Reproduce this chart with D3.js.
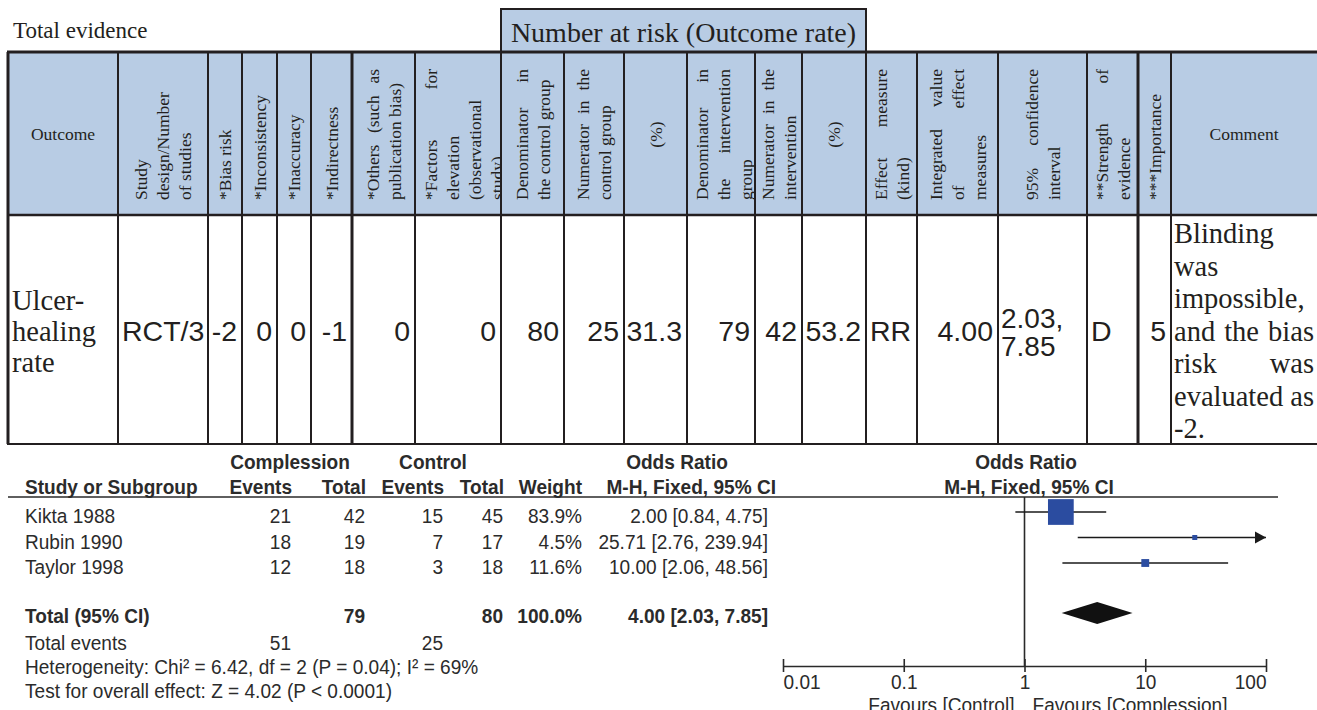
<!DOCTYPE html>
<html>
<head>
<meta charset="utf-8">
<script src="https://cdn.jsdelivr.net/npm/d3@7"></script>
<style>
  html, body { margin: 0; padding: 0; background: #fff; }
  svg { display: block; }
</style>
</head>
<body>
<svg id="chart" width="1317" height="710"></svg>
<script>
// ---------------- Evidence profile (table) ----------------
const tableTitle = "Total evidence";
const groupTitle = "Number at risk (Outcome rate)";

// Header labels, one entry per column, as printed line by line
const headerLabels = [
  ["Outcome"],
  ["Study", "design/Number", "of studies"],
  ["*Bias risk"],
  ["*Inconsistency"],
  ["*Inaccuracy"],
  ["*Indirectness"],
  ["*Others (such as", "publication bias)"],
  ["*Factors for", "elevation", "(observational", "study)"],
  ["Denominator in", "the control group"],
  ["Numerator in the", "control group"],
  ["(%)"],
  ["Denominator in", "the intervention", "group"],
  ["Numerator in the", "intervention"],
  ["(%)"],
  ["Effect measure", "(kind)"],
  ["Integrated value", "of effect", "measures"],
  ["95% confidence", "interval"],
  ["**Strength of", "evidence"],
  ["***Importance"],
  ["Comment"]
];

// Body row
const outcomeLines = ["Ulcer-", "healing", "rate"];
const studyDesign = "RCT/3";
const gradeScores = [-2, 0, 0, -1, 0, 0];          // bias, inconsistency, inaccuracy, indirectness, others, factors
const riskCounts = [80, 25, 31.3, 79, 42, 53.2];    // control den/num/%, intervention den/num/%
const riskIsRate = [false, false, true, false, false, true];
const effectKind = "RR";
const pooledEffect = 4.00;
const pooledCI = [2.03, 7.85];
const evidenceStrength = "D";
const importanceScore = 5;
const commentLines = ["Blinding", "was", "impossible,", "and the bias", "risk was", "evaluated as", "-2."];
const commentJustified = [false, false, false, true, true, true, false];

// ---------------- Forest plot ----------------
const studyNames = ["Kikta 1988", "Rubin 1990", "Taylor 1998"];
const expEvents = [21, 18, 12];
const expTotal = [42, 19, 18];
const ctlEvents = [15, 7, 3];
const ctlTotal = [45, 17, 18];
const studyWeight = [83.9, 4.5, 11.6];
const oddsRatio = [2.00, 25.71, 10.00];
const ciLower = [0.84, 2.76, 2.06];
const ciUpper = [4.75, 239.94, 48.56];
const axisTicks = [0.01, 0.1, 1, 10, 100];
const groupLabels = ["Complession", "Control"];
const favourLabels = ["Favours [Control]", "Favours [Complession]"];
const footNotes = [
  "Heterogeneity: Chi\u00b2 = 6.42, df = 2 (P = 0.04); I\u00b2 = 69%",
  "Test for overall effect: Z = 4.02 (P < 0.0001)"
];

// ---------------- Layout & style ----------------
const svg = d3.select("#chart");
const ink = "#231f20";
const headFill = "#b8cce4";
const serif = "'Liberation Serif','Times New Roman',serif";
const sans = "'Liberation Sans',Arial,Helvetica,sans-serif";

const colEdges = [8, 118, 208, 242, 277, 311, 352, 415, 501, 564, 624, 687, 755, 802, 866, 917, 998, 1087, 1138, 1171, 1317];
const thickEdges = new Set([8, 352, 1138]);
const tableTop = 52, headBottom = 215, tableBottom = 444;
const bodyMid = 331;

const defs = svg.append("defs");

// Title
svg.append("text")
  .attr("x", 13).attr("y", 38)
  .attr("font-family", serif).attr("font-size", 23).attr("fill", ink)
  .text(tableTitle);

// Header background
svg.append("rect")
  .attr("x", colEdges[0]).attr("y", tableTop)
  .attr("width", colEdges[colEdges.length - 1] - colEdges[0])
  .attr("height", headBottom - tableTop)
  .attr("fill", headFill);

// Group header box spanning the risk columns
svg.append("rect")
  .attr("x", colEdges[8]).attr("y", 9)
  .attr("width", colEdges[14] - colEdges[8]).attr("height", tableTop - 9)
  .attr("fill", headFill).attr("stroke", ink).attr("stroke-width", 2);
svg.append("text")
  .attr("x", (colEdges[8] + colEdges[14]) / 2).attr("y", 32)
  .attr("text-anchor", "middle").attr("dominant-baseline", "central")
  .attr("font-family", serif).attr("font-size", 28).attr("fill", ink)
  .text(groupTitle);

// Place words of one line; justified lines are spread across the full span
function placeLine(parent, text, x0, span, justify, anchor) {
  const words = text.split(" ");
  if (!justify || words.length < 2) {
    parent.append("text")
      .attr("x", anchor === "middle" ? x0 + span / 2 : x0)
      .attr("text-anchor", anchor || "start")
      .attr("dominant-baseline", "central")
      .text(text);
    return;
  }
  const nodes = words.map(w => parent.append("text")
    .attr("x", x0).attr("dominant-baseline", "central").text(w));
  const widths = nodes.map(n => n.node().getComputedTextLength());
  const gap = Math.max(4, (span - d3.sum(widths)) / (words.length - 1));
  let x = x0;
  nodes.forEach((n, i) => { n.attr("x", x); x += widths[i] + gap; });
}

// Header cells
const headerLS = 22;
const headerShift = { 7: 6, 11: 3 };
headerLabels.forEach((lines, i) => {
  const x0 = colEdges[i], x1 = colEdges[i + 1];
  const clipId = "hclip" + i;
  defs.append("clipPath").attr("id", clipId).append("rect")
    .attr("x", x0).attr("y", tableTop).attr("width", x1 - x0).attr("height", headBottom - tableTop);
  const cell = svg.append("g").attr("clip-path", `url(#${clipId})`)
    .attr("font-family", serif).attr("font-size", 17.5).attr("fill", ink);
  const cx = (x0 + x1) / 2 + (headerShift[i] || 0);
  if (i === 0 || i === headerLabels.length - 1) {
    cell.append("text").attr("x", cx).attr("y", (tableTop + headBottom) / 2)
      .attr("text-anchor", "middle").attr("dominant-baseline", "central").text(lines[0]);
    return;
  }
  const n = lines.length;
  lines.forEach((ln, j) => {
    const lx = cx + (j - (n - 1) / 2) * headerLS;
    const g = cell.append("g").attr("transform", `translate(${lx},200) rotate(-90)`);
    if (ln === "(%)") placeLine(g, ln, 0, 131, false, "middle");
    else placeLine(g, ln, 0, 131, j < n - 1, "start");
  });
});

// Body cells
function bodyText(col, txt, align, font, size) {
  const x0 = colEdges[col], x1 = colEdges[col + 1];
  svg.append("text")
    .attr("x", align === "end" ? x1 - 5 : x0 + 4)
    .attr("y", bodyMid)
    .attr("text-anchor", align)
    .attr("dominant-baseline", "central")
    .attr("font-family", font).attr("font-size", size).attr("fill", ink)
    .text(txt);
}
const outcomeT = svg.append("text").attr("font-family", serif).attr("font-size", 28.5).attr("fill", ink);
outcomeLines.forEach((ln, j) => {
  outcomeT.append("tspan").attr("x", colEdges[0] + 4)
    .attr("y", bodyMid + (j - (outcomeLines.length - 1) / 2) * 31)
    .attr("dominant-baseline", "central").text(ln);
});
bodyText(1, studyDesign, "start", sans, 28.5);
gradeScores.forEach((v, k) => bodyText(2 + k, String(v), "end", sans, 28.5));
riskCounts.forEach((v, k) => bodyText(8 + k, riskIsRate[k] ? v.toFixed(1) : String(v), "end", sans, 28.5));
bodyText(14, effectKind, "start", sans, 28.5);
bodyText(15, pooledEffect.toFixed(2), "end", sans, 28.5);
const ciT = svg.append("text").attr("font-family", sans).attr("font-size", 28).attr("fill", ink);
[pooledCI[0].toFixed(2) + ",", pooledCI[1].toFixed(2)].forEach((ln, j) => {
  ciT.append("tspan").attr("x", colEdges[16] + 3).attr("y", bodyMid - 13 + j * 28)
    .attr("dominant-baseline", "central").text(ln);
});
bodyText(17, evidenceStrength, "start", sans, 28.5);
bodyText(18, String(importanceScore), "end", sans, 28.5);
commentLines.forEach((ln, j) => {
  const g = svg.append("g")
    .attr("transform", `translate(0,${bodyMid + (j - 3) * 32.5})`)
    .attr("font-family", serif).attr("font-size", 28.5).attr("fill", ink);
  placeLine(g, ln, colEdges[19] + 3, 140, commentJustified[j], "start");
});

// Grid lines
const grid = svg.append("g").attr("stroke", ink);
[[tableTop, 3], [headBottom, 2.5], [tableBottom, 2]].forEach(([y, w]) => {
  grid.append("line").attr("x1", colEdges[0] - 1).attr("x2", 1317).attr("y1", y).attr("y2", y).attr("stroke-width", w);
});
colEdges.slice(0, -1).forEach(x => {
  grid.append("line").attr("x1", x).attr("x2", x).attr("y1", tableTop).attr("y2", tableBottom)
    .attr("stroke-width", thickEdges.has(x) ? 3 : 2);
});

// ---------------- Forest plot drawing ----------------
const fInk = "#2b2b2b";
const fSize = 20.5;
const squeeze = 0.93;   // narrow glyphs, as in the plot's typeface
const fp = svg.append("g").attr("font-family", sans).attr("font-size", fSize).attr("fill", fInk);

function condense(sel) {
  sel.each(function () {
    const w = this.getComputedTextLength();
    d3.select(this).attr("textLength", w * squeeze).attr("lengthAdjust", "spacingAndGlyphs");
  });
}

const colRight = { expE: 291, expT: 365, ctlE: 443, ctlT: 503, wt: 582, ci: 768 };
const rowY = i => 516 + i * 25.5;
const totalY = 616, eventsY = 643;
const noteY = [667, 691];
const markShift = -4;

function ftext(x, y, txt, anchor, bold) {
  const t = fp.append("text").attr("x", x).attr("y", y).attr("dy", "0.35em")
    .attr("text-anchor", anchor).attr("font-weight", bold ? "bold" : "normal").text(txt);
  condense(t);
  return t;
}

// Column headings
ftext(290, 462, groupLabels[0], "middle", true);
ftext(433, 462, groupLabels[1], "middle", true);
ftext(677, 462, "Odds Ratio", "middle", true);
ftext(25, 487, "Study or Subgroup", "start", true);
ftext(colRight.expE + 1, 487, "Events", "end", true);
ftext(colRight.expT + 1, 487, "Total", "end", true);
ftext(colRight.ctlE + 1, 487, "Events", "end", true);
ftext(colRight.ctlT + 1, 487, "Total", "end", true);
ftext(colRight.wt, 487, "Weight", "end", true);
ftext(776, 487, "M-H, Fixed, 95% CI", "end", true);
ftext(1026, 462, "Odds Ratio", "middle", true);
ftext(1029, 487, "M-H, Fixed, 95% CI", "middle", true);

fp.append("line").attr("x1", 8).attr("x2", 1278).attr("y1", 497).attr("y2", 497)
  .attr("stroke", "#2a2a2a").attr("stroke-width", 1.6);

const fmtCI = (o, l, u) => `${o.toFixed(2)} [${l.toFixed(2)}, ${u.toFixed(2)}]`;

studyNames.forEach((name, i) => {
  const y = rowY(i);
  ftext(25, y, name, "start", false);
  ftext(colRight.expE, y, expEvents[i], "end", false);
  ftext(colRight.expT, y, expTotal[i], "end", false);
  ftext(colRight.ctlE, y, ctlEvents[i], "end", false);
  ftext(colRight.ctlT, y, ctlTotal[i], "end", false);
  ftext(colRight.wt, y, studyWeight[i].toFixed(1) + "%", "end", false);
  ftext(colRight.ci, y, fmtCI(oddsRatio[i], ciLower[i], ciUpper[i]), "end", false);
});

ftext(25, totalY, "Total (95% CI)", "start", true);
ftext(colRight.expT, totalY, d3.sum(expTotal), "end", true);
ftext(colRight.ctlT, totalY, d3.sum(ctlTotal), "end", true);
ftext(colRight.wt, totalY, d3.sum(studyWeight).toFixed(1) + "%", "end", true);
ftext(colRight.ci, totalY, fmtCI(pooledEffect, pooledCI[0], pooledCI[1]), "end", true);

ftext(25, eventsY, "Total events", "start", false);
ftext(colRight.expE, eventsY, d3.sum(expEvents), "end", false);
ftext(colRight.ctlE, eventsY, d3.sum(ctlEvents), "end", false);
footNotes.forEach((t, k) => ftext(25, noteY[k], t, "start", false));

// Odds-ratio scale
const x = d3.scaleLog().domain([0.01, 100]).range([783, 1266]);
const sizeScale = d3.scalePow().exponent(0.6).domain([0, 100]).range([0, 28.6]);
const axisY = 666;

const plot = svg.append("g");
plot.append("line")
  .attr("x1", x(1)).attr("x2", x(1)).attr("y1", 497).attr("y2", axisY)
  .attr("stroke", "#2a2a2a").attr("stroke-width", 1.6);

const [xMin, xMax] = x.domain();
studyNames.forEach((name, i) => {
  const y = rowY(i) + markShift;
  const hi = Math.min(ciUpper[i], xMax);
  plot.append("line")
    .attr("x1", x(Math.max(ciLower[i], xMin))).attr("x2", x(hi))
    .attr("y1", y).attr("y2", y)
    .attr("stroke", "#1a1a1a").attr("stroke-width", 1.6);
  if (ciUpper[i] > xMax) {
    const xe = x(xMax);
    plot.append("path")
      .attr("d", `M${xe},${y} L${xe - 11},${y - 6} L${xe - 11},${y + 6} Z`)
      .attr("fill", "#1a1a1a");
  }
  const s = Math.max(5, sizeScale(studyWeight[i]));
  plot.append("rect")
    .attr("x", x(oddsRatio[i]) - s / 2).attr("y", y - s / 2)
    .attr("width", s).attr("height", s)
    .attr("fill", "#2b4ca0");
});

// Pooled diamond
const dy = totalY + markShift + 1;
plot.append("path")
  .attr("d", `M${x(pooledCI[0])},${dy} L${x(pooledEffect)},${dy - 11} L${x(pooledCI[1])},${dy} L${x(pooledEffect)},${dy + 11} Z`)
  .attr("fill", "#111");

// Axis
const axis = d3.axisBottom(x).tickValues(axisTicks).tickFormat(d => String(d)).tickSizeOuter(0);
const ax = plot.append("g").attr("transform", `translate(0,${axisY})`).call(axis);
ax.select(".domain").attr("stroke", "#2a2a2a").attr("stroke-width", 1.6);
ax.selectAll(".tick line").attr("y1", -7).attr("y2", 6).attr("stroke", "#2a2a2a").attr("stroke-width", 1.6);
ax.selectAll(".tick text")
  .attr("y", 16).attr("dy", "0.35em")
  .attr("font-family", sans).attr("font-size", fSize).attr("fill", fInk)
  .attr("text-anchor", (d, i) => i === 0 ? "start" : (i === axisTicks.length - 1 ? "end" : "middle"))
  .call(condense);

ftext(x(1) - 10, 705, favourLabels[0], "end", false);
ftext(x(1) + 8, 705, favourLabels[1], "start", false);
</script>
</body>
</html>
